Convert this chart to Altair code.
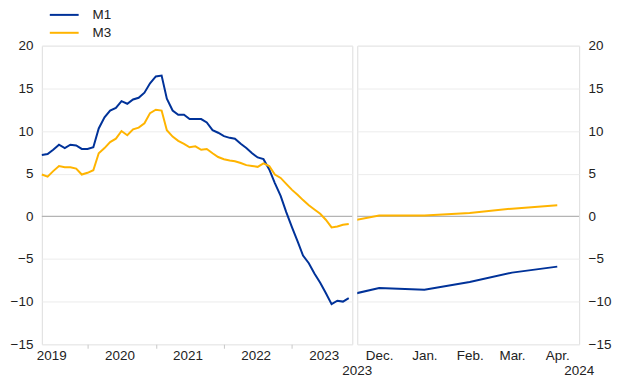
import altair as alt
import pandas as pd

# ---------------- data ----------------
# Left panel: monthly annual growth rates, May 2019 - Nov 2023
left_start = "2019-05-01"
m1_left = [7.2, 7.3, 7.8, 8.4, 8.0, 8.4, 8.3, 7.9, 7.9, 8.1,
           10.3, 11.6, 12.4, 12.7, 13.5, 13.2, 13.7, 13.9, 14.5, 15.6,
           16.4, 16.5, 13.8, 12.4, 11.9, 11.9, 11.4, 11.4, 11.4, 11.0,
           10.1, 9.8, 9.4, 9.2, 9.1, 8.5, 8.0, 7.4, 6.9, 6.7,
           5.5, 3.9, 2.4, 0.5, -1.3, -3.0, -4.6, -5.5, -6.7, -7.8,
           -9.0, -10.3, -9.9, -10.0, -9.6]
m3_left = [4.9, 4.65, 5.3, 5.9, 5.75, 5.75, 5.6, 4.9, 5.1, 5.4,
           7.4, 8.0, 8.7, 9.1, 10.0, 9.5, 10.2, 10.4, 10.9, 12.1,
           12.5, 12.4, 10.1, 9.35, 8.85, 8.5, 8.1, 8.2, 7.8, 7.9,
           7.4, 6.95, 6.7, 6.55, 6.45, 6.25, 6.0, 5.9, 5.8, 6.2,
           5.9, 4.9, 4.5, 3.8, 3.1, 2.5, 1.9, 1.3, 0.8, 0.3,
           -0.4, -1.3, -1.2, -1.0, -0.9]

# Right panel: Nov 2023 - Apr 2024
right_months = ["2023-11-01", "2023-12-01", "2024-01-01", "2024-02-01", "2024-03-01", "2024-04-01"]
m1_right = [-9.6, -8.4, -8.6, -7.7, -6.6, -5.9]
m3_right = [-0.9, 0.1, 0.1, 0.4, 0.9, 1.3]

series_names = ["M1", "M3"]
series_colors = ["#003299", "#FFB400"]

y_ticks = [-15, -10, -5, 0, 5, 10, 15, 20]
left_years = [2019, 2020, 2021, 2022, 2023]
right_year_labels = ["2023", "2024"]
right_year_dates = ["2023-11-16", "2024-04-16"]

FONT = "Liberation Sans"
TXT = "#222222"

# ---------------- frames ----------------
left_dates = pd.date_range(left_start, periods=len(m1_left), freq="MS")
left_df = pd.DataFrame({
    "date": list(left_dates) * 2,
    "value": m1_left + m3_left,
    "series": ["M1"] * len(m1_left) + ["M3"] * len(m3_left),
})
rdates = pd.to_datetime(right_months)
right_df = pd.DataFrame({
    "date": list(rdates) * 2,
    "value": m1_right + m3_right,
    "series": ["M1"] * len(m1_right) + ["M3"] * len(m3_right),
})
zero_df = pd.DataFrame({"y": [0]})
year_df = pd.DataFrame({"date": pd.to_datetime(right_year_dates), "label": right_year_labels})

W_LEFT, W_RIGHT, H = 312, 223, 300

color = alt.Color("series:N", scale=alt.Scale(domain=series_names, range=series_colors), legend=None)

def y_enc(orient):
    return alt.Y("value:Q", scale=alt.Scale(domain=[-15, 20], nice=False, zero=False),
                 axis=alt.Axis(values=y_ticks, orient=orient, title=None, domain=False, ticks=False,
                               labelPadding=9, grid=True, gridColor="#ececec", gridWidth=1))

# left x axis: ticks on Jan 1, labels at mid-year
left_axis_values = [alt.DateTime(year=y, month=1, date=1) for y in left_years[1:]] + \
                   [alt.DateTime(year=y, month=6, date=20) for y in left_years]
left_x = alt.X("date:T",
               scale=alt.Scale(domain=[alt.DateTime(year=2019, month=5, date=1),
                                       alt.DateTime(year=2023, month=11, date=20)]),
               axis=alt.Axis(values=left_axis_values, title=None, domain=False, grid=False,
                             tickSize=4, tickColor="#c8c8c8", labelPadding=0, labelOverlap=False,
                             labelFlush=False,
                             labelExpr="month(datum.value) == 0 ? '' : timeFormat(datum.value, '%Y')",
                             tickOpacity={"condition": {"test": "month(datum.value) == 0", "value": 1}, "value": 0}))

right_axis_values = [alt.DateTime(year=2023, month=12, date=1), alt.DateTime(year=2024, month=1, date=1),
                     alt.DateTime(year=2024, month=2, date=1), alt.DateTime(year=2024, month=3, date=1),
                     alt.DateTime(year=2024, month=4, date=1),
                     alt.DateTime(year=2023, month=12, date=16), alt.DateTime(year=2024, month=1, date=16),
                     alt.DateTime(year=2024, month=2, date=15), alt.DateTime(year=2024, month=3, date=16)]
right_x = alt.X("date:T",
                scale=alt.Scale(domain=[alt.DateTime(year=2023, month=11, date=16),
                                        alt.DateTime(year=2024, month=4, date=16)]),
                axis=alt.Axis(values=right_axis_values, title=None, domain=False, grid=False,
                              tickSize=4, tickColor="#c8c8c8", labelPadding=0, labelOverlap=False,
                              labelFlush=False,
                              labelExpr="date(datum.value) == 1 ? timeFormat(datum.value, '%b') + '.' : ''",
                              tickOpacity={"condition": {"test": "date(datum.value) == 1", "value": 0}, "value": 1}))

zero_rule = alt.Chart(zero_df).mark_rule(color="#a6a6a6", strokeWidth=1).encode(y="y:Q")

left_lines = alt.Chart(left_df).mark_line(strokeWidth=2).encode(x=left_x, y=y_enc("left"), color=color)

# manual legend above the left panel
leg_m1_line = alt.Chart(pd.DataFrame({"s": ["M1"]})).mark_rule(color=series_colors[0], strokeWidth=2).encode(
    x=alt.value(8), x2=alt.value(37), y=alt.value(-31))
leg_m3_line = alt.Chart(pd.DataFrame({"s": ["M3"]})).mark_rule(color=series_colors[1], strokeWidth=2).encode(
    x=alt.value(8), x2=alt.value(37), y=alt.value(-13))
leg_m1_text = alt.Chart(pd.DataFrame({"s": ["M1"]})).mark_text(align="left", baseline="middle", color=TXT).encode(
    x=alt.value(51), y=alt.value(-31), text="s:N")
leg_m3_text = alt.Chart(pd.DataFrame({"s": ["M3"]})).mark_text(align="left", baseline="middle", color=TXT).encode(
    x=alt.value(51), y=alt.value(-13), text="s:N")

left = alt.layer(zero_rule, left_lines, leg_m1_line, leg_m3_line, leg_m1_text, leg_m3_text).properties(
    width=W_LEFT, height=H)

right_lines = alt.Chart(right_df).mark_line(strokeWidth=2, clip=True).encode(
    x=right_x, y=y_enc("right"), color=color)
year_text = alt.Chart(year_df).mark_text(align="center", baseline="middle", color=TXT).encode(
    x=alt.X("date:T"), y=alt.value(H + 27), text="label:N")

right = alt.layer(zero_rule, right_lines, year_text).properties(width=W_RIGHT, height=H)

chart = alt.hconcat(left, right, spacing=5, bounds="flush").properties(
    padding={"left": 1, "top": -2, "right": 0, "bottom": 0}
).configure_view(stroke="#dddddd", strokeWidth=1).configure_axis(
    labelFont=FONT, labelFontSize=13.5, labelColor=TXT
).configure_text(font=FONT, fontSize=13.5)

chart.save("out.html", embed_options={"renderer": "svg", "actions": False})
